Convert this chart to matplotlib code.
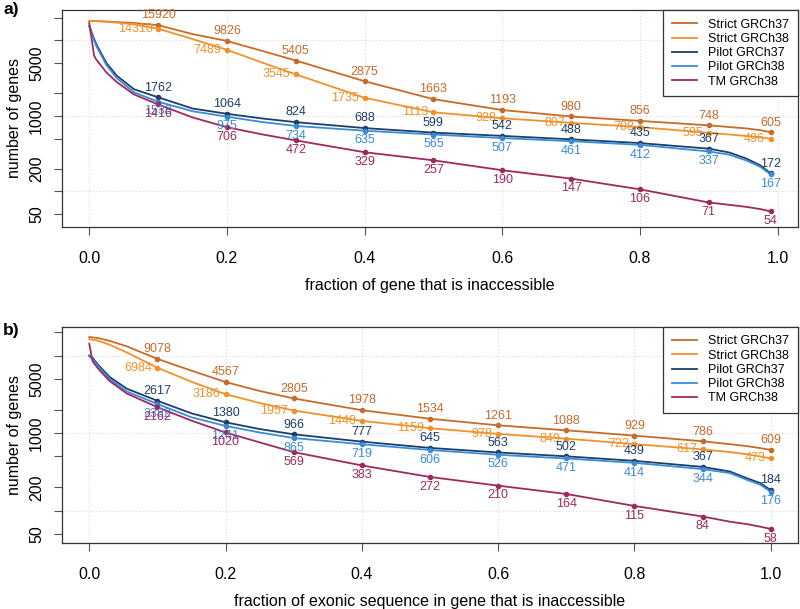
import matplotlib
matplotlib.use("Agg")
import matplotlib.pyplot as plt
from matplotlib.ticker import FixedLocator, FixedFormatter, NullLocator

plt.rcParams["font.family"] = ["Liberation Sans", "DejaVu Sans"]

series = ["Strict GRCh37", "Strict GRCh38", "Pilot GRCh37", "Pilot GRCh38", "TM GRCh38"]
colors = ["#C76B29", "#F0922B", "#1D3E68", "#3A8CD8", "#A0295C"]
label_pos = ["above", "left", "above", "below", "below"]

# ---- panel a: fraction of gene that is inaccessible
curve_x_a = [0, 0.007, 0.01, 0.025, 0.04, 0.065, 0.1, 0.15, 0.2, 0.25, 0.3,
             0.4, 0.5, 0.6, 0.7, 0.8, 0.9, 0.93, 0.955, 0.975, 0.99]
curve_a_strict37 = [18150, 18100, 18050, 17800, 17500, 17000, 15920, 12130, 9826, 7310, 5405,
                    2875, 1663, 1193, 980, 856, 748, 710, 680, 645, 605]
curve_a_strict38 = [18150, 18050, 18000, 17600, 17200, 16300, 14310, 10420, 7489, 5130, 3545,
                    1735, 1113, 928, 807, 708, 595, 565, 540, 520, 496]
curve_a_pilot37 = [15500, 10500, 8970, 5000, 3400, 2250, 1762, 1250, 1064, 925, 824,
                   688, 599, 542, 488, 435, 367, 326, 270, 220, 172]
curve_a_pilot38 = [15500, 10000, 8500, 4700, 3150, 2050, 1538, 1150, 975, 830, 734,
                   635, 565, 507, 461, 412, 337, 305, 255, 210, 167]
curve_a_tm = [17000, 6300, 5600, 3750, 2800, 1920, 1416, 952, 706, 570, 472,
              329, 257, 190, 147, 106, 71, 66, 62, 58, 54]

pts_x_a = [0.1, 0.2, 0.3, 0.4, 0.5, 0.6, 0.7, 0.8, 0.9, 0.99]
pts_a_strict37 = [15920, 9826, 5405, 2875, 1663, 1193, 980, 856, 748, 605]
pts_a_strict38 = [14310, 7489, 3545, 1735, 1113, 928, 807, 708, 595, 496]
pts_a_pilot37 = [1762, 1064, 824, 688, 599, 542, 488, 435, 367, 172]
pts_a_pilot38 = [1538, 975, 734, 635, 565, 507, 461, 412, 337, 167]
pts_a_tm = [1416, 706, 472, 329, 257, 190, 147, 106, 71, 54]

# ---- panel b: fraction of exonic sequence in gene that is inaccessible
curve_x_b = [0, 0.005, 0.015, 0.03, 0.055, 0.1, 0.15, 0.2, 0.25, 0.3,
             0.4, 0.5, 0.6, 0.7, 0.8, 0.9, 0.94, 0.965, 0.985, 1.0]
curve_b_strict37 = [17340, 17200, 16700, 15500, 13200, 9078, 6400, 4567, 3500, 2805,
                    1978, 1534, 1261, 1088, 929, 786, 720, 680, 640, 609]
curve_b_strict38 = [16330, 16100, 15400, 13800, 11000, 6984, 4600, 3186, 2450, 1957,
                    1440, 1159, 978, 849, 722, 617, 570, 535, 500, 473]
curve_b_pilot37 = [10030, 9300, 7300, 5300, 3750, 2617, 1800, 1380, 1130, 966,
                   777, 645, 563, 502, 439, 367, 320, 262, 226, 184]
curve_b_pilot38 = [9800, 9000, 7000, 5000, 3450, 2382, 1600, 1241, 1020, 865,
                   719, 606, 526, 471, 414, 344, 305, 250, 215, 176]
curve_b_tm = [14190, 8400, 6500, 4700, 3250, 2162, 1450, 1020, 760, 569,
              383, 272, 210, 164, 115, 84, 72, 67, 62, 58]

pts_x_b = [0.1, 0.2, 0.3, 0.4, 0.5, 0.6, 0.7, 0.8, 0.9, 1.0]
pts_b_strict37 = [9078, 4567, 2805, 1978, 1534, 1261, 1088, 929, 786, 609]
pts_b_strict38 = [6984, 3186, 1957, 1440, 1159, 978, 849, 722, 617, 473]
pts_b_pilot37 = [2617, 1380, 966, 777, 645, 563, 502, 439, 367, 184]
pts_b_pilot38 = [2382, 1241, 865, 719, 606, 526, 471, 414, 344, 176]
pts_b_tm = [2162, 1020, 569, 383, 272, 210, 164, 115, 84, 58]

y_ticks = [20000, 10000, 5000, 2000, 1000, 500, 200, 100, 50]
y_tick_labels = ["", "", "5000", "", "1000", "", "200", "", "50"]
y_grid = [10000, 1000, 100]
x_ticks = [0.0, 0.2, 0.4, 0.6, 0.8, 1.0]

offsets = {"above": (0, 7, "center", "center"),
           "below": (0, -7, "center", "center"),
           "left": (-4, 0, "right", "center")}


def draw_panel(ax, curve_x, curves, pts_x, pts, xlabel, xlim, ylim):
    ax.set_yscale("log")
    for xv in x_ticks:
        ax.axvline(xv, color="#d9d9d9", lw=0.8, ls=(0, (1, 2)), zorder=0)
    for yv in y_grid:
        ax.axhline(yv, color="#d9d9d9", lw=0.8, ls=(0, (1, 2)), zorder=0)

    for name, col, pos, cy, py in zip(series, colors, label_pos, curves, pts):
        ax.plot(curve_x, cy, color=col, lw=1.3, label=name, zorder=2)
        ax.plot(pts_x, py, "o", color=col, ms=3, zorder=3)
        dx, dy, ha, va = offsets[pos]
        for xv, yv in zip(pts_x, py):
            ax.annotate(str(yv), (xv, yv), xytext=(dx, dy), textcoords="offset points",
                        ha=ha, va=va, color=col, fontsize=9, zorder=4)

    ax.set_xlim(*xlim)
    ax.set_ylim(*ylim)
    ax.yaxis.set_major_locator(FixedLocator(y_ticks))
    ax.yaxis.set_major_formatter(FixedFormatter(y_tick_labels))
    ax.yaxis.set_minor_locator(NullLocator())
    ax.set_xticks(x_ticks)
    ax.set_xticklabels(["%.1f" % v for v in x_ticks])
    ax.tick_params(axis="both", length=6, width=0.8, color="#555555",
                   labelsize=11.5, direction="out")
    ax.tick_params(axis="y", pad=7)
    ax.tick_params(axis="x", pad=11)
    for lab in ax.get_yticklabels():
        lab.set_rotation(90)
        lab.set_va("center")
    for sp in ax.spines.values():
        sp.set_color("#333333")
        sp.set_linewidth(0.9)
    ax.set_xlabel(xlabel, fontsize=11.5, labelpad=9)
    ax.set_ylabel("number of genes", fontsize=11.5, labelpad=5)
    leg = ax.legend(loc="upper right", fontsize=9, frameon=True, fancybox=False,
                    edgecolor="#333333", framealpha=1, borderaxespad=0,
                    handlelength=2.0, handletextpad=0.9, labelspacing=0.18,
                    borderpad=0.7)
    leg.get_frame().set_linewidth(0.9)


fig = plt.figure(figsize=(8, 6.09), dpi=100)
ax_a = fig.add_axes([0.0775, 0.6273, 0.92, 0.3563])
ax_b = fig.add_axes([0.0775, 0.1079, 0.92, 0.3556])

draw_panel(ax_a, curve_x_a,
           [curve_a_strict37, curve_a_strict38, curve_a_pilot37, curve_a_pilot38, curve_a_tm],
           pts_x_a,
           [pts_a_strict37, pts_a_strict38, pts_a_pilot37, pts_a_pilot38, pts_a_tm],
           "fraction of gene that is inaccessible", (-0.0396, 1.0296), (33.6, 25300))
draw_panel(ax_b, curve_x_b,
           [curve_b_strict37, curve_b_strict38, curve_b_pilot37, curve_b_pilot38, curve_b_tm],
           pts_x_b,
           [pts_b_strict37, pts_b_strict38, pts_b_pilot37, pts_b_pilot38, pts_b_tm],
           "fraction of exonic sequence in gene that is inaccessible", (-0.04, 1.04), (37.9, 23620))

fig.text(0.004, 0.984, "a)", fontsize=12.5, fontweight="bold", va="center", ha="left")
fig.text(0.004, 0.458, "b)", fontsize=12.5, fontweight="bold", va="center", ha="left")

fig.savefig("out.png", dpi=100)
